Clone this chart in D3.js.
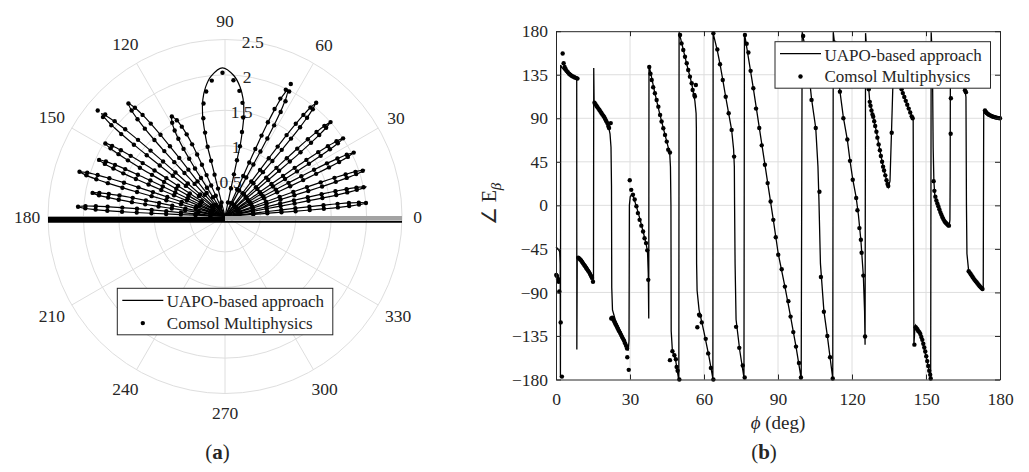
<!DOCTYPE html>
<html lang="en">
<head>
<meta charset="utf-8">
<title>UAPO vs Comsol</title>
<script src="https://d3js.org/d3.v7.min.js"></script>
<style>
  body { margin: 0; background: #fff; }
  svg text { font-family: "Liberation Serif", "Times New Roman", serif; fill: #262626; }
</style>
</head>
<body>
<svg id="chart" width="1029" height="472"></svg>
<script>
// ---------- (a) polar plot of the field magnitude ----------
var ringTicks = [0.5, 1, 1.5, 2, 2.5];
var ringLabels = ["0.5", "1", "1.5", "2", "2.5"];
var angleTicks = [0, 30, 60, 90, 120, 150, 180, 210, 240, 270, 300, 330];

// one entry per lobe: tip direction (deg), UAPO peak, Comsol peak, half width (deg)
var lobeAngle = [5.5, 11.9, 18.4, 26.4, 33.5, 41.8, 51.3, 63.6, 91, 118, 130.5, 140.2, 148.6, 155.8, 162.9, 169.9, 176.2];
var lobePeak = [2.02, 2.04, 2.08, 2.02, 2.0, 1.99, 2.04, 2.0, 2.1, 1.6, 2.1, 2.27, 1.99, 1.95, 2.15, 1.91, 2.1];
var comsolPeak = [2.0, 2.0, 2.05, 2.03, 2.0, 2.0, 2.06, 2.09, 2.03, 1.6, 2.1, 2.34, 1.98, 1.95, 2.15, 1.9, 2.08];
var lobeHalfWidth = [1.2, 1.3, 1.4, 1.5, 1.5, 1.6, 1.8, 2.2, 13, 4, 2.5, 1.8, 1.8, 1.6, 1.6, 1.5, 1.3];

// grazing directions drawn as solid bars
var baseAngle = [180, 0];
var baseReach = 2.5;

// ---------- (b) phase of E_beta versus phi ----------
var xTicks = [0, 30, 60, 90, 120, 150, 180];
var yTicks = [-180, -135, -90, -45, 0, 45, 90, 135, 180];

// [phi (deg), phase (deg)]
var uapoCurve = [
  [0, -43], [0.8, -45], [1.5, -48], [1.7, -60], [1.8, -178], [1.9, 145], [2.5, 142], [3.5, 139], [5, 136],
  [6.5, 133.5], [8.2, 131.3], [8.4, 130], [8.45, -149], [8.6, -54], [9, -54], [11, -59], [13, -66], [14.5, -72],
  [15.2, -77], [15.3, 142], [15.45, 107], [17, 100], [19, 92], [20.5, 86], [21.4, 80], [21.9, 74], [22.3, 60],
  [22.5, 20], [22.6, -85], [22.9, -108], [24, -118], [26, -130], [28, -141], [29.3, -150], [29.6, -140],
  [29.75, 0], [30.1, 9], [30.6, 11], [31.2, 10], [32.6, -1], [34, -14], [35.3, -27], [36.5, -39], [37.1, -48],
  [37.4, -70], [37.6, -117], [37.7, 145], [38.2, 139], [40, 117], [42, 95], [44, 75], [45.5, 60], [46.1, 54],
  [46.4, 40], [46.6, 0], [46.7, -130], [47.2, -151], [48.5, -160], [49.6, -178], [49.8, -180], [49.9, 179],
  [53, 146], [55, 126], [56.3, 108], [56.8, 95], [56.9, 80], [57, -60], [57.2, -88], [58, -108], [60, -131],
  [62, -156], [63.6, -179], [63.7, 178], [65.4, 160], [66.5, 146], [67.6, 130], [68.8, 112], [70, 95],
  [71.2, 78], [72, 58], [72.3, 40], [72.4, 0], [72.6, -60], [73, -118], [74.5, -150], [76.2, -178], [76.4, 178],
  [80, 121], [84.7, 42], [88.1, -15], [90.1, -50], [92.8, -84], [95.1, -115], [97.3, -146], [99.4, -179],
  [99.8, 179], [102, 150], [103.6, 110], [105.3, 80], [106.2, 40], [106.6, 5], [107.2, -60], [108.6, -109],
  [110, -135], [111.1, -157], [112.2, -179], [112.4, 179], [115.1, 118], [116.5, 91], [118.1, 68], [119.2, 46],
  [120.3, 27], [121.7, 8], [122.6, -10], [123.6, -36], [124.6, -73], [125.1, -110], [125.3, -144], [125.5, 178],
  [126.2, 150], [126.8, 120], [127.2, 107], [128.6, 91.5], [129.9, 76], [131.3, 57], [132.6, 40], [134, 26],
  [134.7, 19], [135.4, 25], [136.1, 83], [136.5, 118], [137.2, 168], [138.5, 140], [140.1, 121], [142.4, 104],
  [144.3, 92], [144.8, 89], [145.1, -144], [145.5, -127], [145.8, -124], [147.6, -132], [149, -145.5],
  [150.3, -159], [151.9, -179], [152.1, 179], [152.6, 150], [152.9, 60], [153.2, 25], [153.6, 9], [154.3, 4],
  [155.6, -5], [157, -13], [158, -17], [159, -20.5], [159.4, -21], [159.7, -15], [159.8, 30], [159.9, 165],
  [162, 148], [164, 132], [165.8, 119], [166.2, 112], [166.4, 0], [166.6, -50], [167.3, -68], [170, -77],
  [173.2, -86.5], [173.4, 98], [174, 95], [176, 92.5], [180, 90]
];

var comsolPoints = [
  [0.1, -72], [0.4, -73], [0.8, -76], [1.1, -79], [1.35, -89], [1.9, -121], [2.4, -177],
  [2.7, 157], [3.1, 147], [3.5, 143], [3.9, 141], [4.3, 139], [4.8, 137.5], [5.3, 136], [5.8, 135], [6.3, 134],
  [6.8, 133.3], [7.3, 132.6], [7.8, 132], [8.3, 131.5], [8.7, 131],
  [9, -54], [9.4, -55], [9.8, -56], [10.2, -57], [10.6, -58.5], [11, -60], [11.4, -61.5], [11.8, -63], [12.2, -64.5],
  [12.6, -66], [13, -67.5], [13.4, -69], [13.8, -71], [14.2, -73], [14.6, -75], [15, -79],
  [15.6, 106], [16, 104.5], [16.4, 103], [16.8, 101.5], [17.2, 100], [17.6, 98.5], [18, 97], [18.4, 95.5],
  [18.8, 94], [19.2, 92.5], [19.6, 91], [20, 89], [20.4, 87], [20.8, 85], [21.2, 82], [21.5, 80], [22.2, 85],
  [22.4, -117], [22.8, -116], [23.2, -118], [23.6, -120], [24, -122], [24.4, -124], [24.8, -126], [25.2, -128],
  [25.6, -130], [26, -132], [26.4, -134], [26.8, -136], [27.2, -138], [27.6, -140], [28, -142.5], [28.4, -145],
  [28.8, -148], [28.9, -157], [29.5, -170],
  [29.9, 26], [30.5, 16], [31.2, 11], [31.9, 6], [32.6, -1], [33.2, -8], [33.9, -15], [34.6, -21], [35.3, -27],
  [35.9, -34], [36.5, -39], [37, -46.5], [37.4, -77],
  [37.8, 143], [38.3, 136], [38.8, 129.6], [39.4, 122], [40.1, 115.8], [40.8, 108.9], [41.5, 102], [42.2, 93.5],
  [42.8, 86.6], [43.5, 79.7], [44.2, 72.8], [44.9, 65.9], [45.5, 57.4], [46.2, 54.6],
  [46.2, -160], [47.2, -150.7], [48, -155], [48.6, -159], [48.9, -167], [49.3, -171], [50, -180],
  [50.3, 176], [50.9, 167.4], [51.6, 160.5], [52.3, 153.6], [53, 146.8], [53.6, 139.9], [54.3, 133], [55, 126.2],
  [55.4, 119.3], [56.1, 114], [56.3, 112.5], [56.7, 124.4],
  [57.3, -126], [58, -113], [58.4, -114], [59.1, -121], [60.7, -138], [61.7, -153], [62.8, -168], [63.8, -180],
  [63.8, 177.8], [65.4, 161.2], [66.5, 145.8], [67.6, 129.6], [68.8, 112.3], [70, 95.2], [71.2, 78], [72.2, 50.4],
  [73, -125.6], [74.3, -147.3], [75.7, -165.5], [76.5, -178],
  [76.6, 176], [77.3, 167], [78, 158], [78.9, 139], [80, 121], [81.1, 100], [82.4, 80], [83.4, 62], [84.7, 42],
  [85.8, 23], [87, 4], [88.1, -15], [89.1, -33], [90.1, -51], [91.5, -66], [92.8, -84], [94.2, -99], [95.1, -115],
  [96.2, -131], [97.3, -146], [98.5, -163], [99.3, -178],
  [100.2, 175], [101.5, 152], [102.5, 132], [103.6, 109], [105.3, 80], [106.8, 14], [107.4, -74], [108.6, -110],
  [110, -135], [111.1, -157], [112.2, -179],
  [113, 168], [114, 145], [115.1, 117.5], [116.5, 90], [118.1, 68], [119.2, 46], [120.3, 26.5], [121.7, 7.6],
  [122.2, -5], [123, -23.5], [123.6, -35.6], [123.9, -49], [124.6, -72.6], [125.3, -135.6],
  [126.8, 120], [127.2, 107], [127.5, 103], [127.9, 98], [128.3, 94], [128.6, 91.5], [129, 87], [129.4, 82],
  [129.9, 76], [130.3, 70], [130.8, 63], [131.3, 57], [131.7, 51], [132.2, 45], [132.6, 40], [133, 36],
  [133.5, 31], [134, 26], [134.4, 22], [134.7, 20], [136.1, 75],
  [140.1, 120], [140.6, 116], [141.2, 112], [141.8, 108], [142.4, 104], [143, 100], [143.6, 96], [144.2, 92],
  [144.6, 90],
  [145.3, -144], [145.8, -126], [146.1, -127], [146.5, -128], [146.9, -130], [147.3, -131], [147.7, -133],
  [148.1, -136], [148.5, -139], [148.9, -143], [149.3, -147], [149.7, -151], [150.1, -156], [150.5, -161],
  [150.9, -166], [151.3, -171], [151.7, -175], [151.9, -179],
  [153.1, 25], [153.4, 15], [153.8, 9], [154.2, 5], [154.6, 2], [155, -1], [155.4, -4], [155.8, -7], [156.2, -9.5],
  [156.6, -12], [157, -14], [157.4, -16], [157.8, -17.5], [158.2, -18.5], [158.6, -19.5], [159, -20.5], [159.3, -21],
  [160.1, 110.7], [160, 74], [165.8, 119], [166.2, 117],
  [167.3, -68], [167.7, -69.5], [168.1, -71], [168.5, -72.5], [168.9, -74], [169.3, -75.5], [169.7, -77],
  [170.1, -78.3], [170.5, -79.5], [170.9, -80.8], [171.3, -82], [171.7, -83.3], [172.1, -84.5], [172.5, -85.5],
  [172.9, -86.5],
  [173.9, 98], [174.3, 96.5], [174.7, 95.3], [175.1, 94.4], [175.5, 93.7], [176, 93], [176.5, 92.4], [177, 91.9],
  [177.5, 91.4], [178, 91], [178.5, 90.7], [179, 90.4], [179.5, 90.2], [180, 90]
];

var legendNames = ["UAPO-based approach", "Comsol Multiphysics"];

// ---------- drawing ----------
var svg = d3.select("#chart");
var axisColor = "#262626";
var gridColor = "#dedede";

function legend(x, y) {
    var g = svg.append("g").attr("transform", "translate(" + x + "," + y + ")");
    g.append("rect").attr("width", 215.5).attr("height", 46.5)
        .attr("fill", "#fff").attr("stroke", axisColor).attr("stroke-width", 1);
    g.append("line").attr("x1", 5).attr("x2", 46).attr("y1", 12).attr("y2", 12)
        .attr("stroke", "#000").attr("stroke-width", 1.3);
    g.append("circle").attr("cx", 25.5).attr("cy", 34.8).attr("r", 2.2).attr("fill", "#000");
    g.selectAll("text").data(legendNames).enter().append("text")
        .attr("x", 49.5).attr("y", function (d, i) { return 19 + i * 21.5; })
        .style("font-size", "17px").text(function (d) { return d; });
}

// polar panel
var center = { x: 225, y: 216.5 };
var rScale = d3.scaleLinear().domain([0, 2.5]).range([0, 177]);
var rad = function (deg) { return deg * Math.PI / 180; };
function pxy(deg, r) {
    return [rScale(r) * Math.cos(rad(deg)), -rScale(r) * Math.sin(rad(deg))];
}
var polar = svg.append("g").attr("transform", "translate(" + center.x + "," + center.y + ")");

polar.selectAll("circle.ring").data(ringTicks).enter().append("circle")
    .attr("class", "ring").attr("r", function (d) { return rScale(d); })
    .attr("fill", "none").attr("stroke", gridColor).attr("stroke-width", 1);

polar.selectAll("line.spoke").data(angleTicks).enter().append("line")
    .attr("class", "spoke").attr("x1", 0).attr("y1", 0)
    .attr("x2", function (d) { return pxy(d, 2.5)[0]; })
    .attr("y2", function (d) { return pxy(d, 2.5)[1]; })
    .attr("stroke", gridColor).attr("stroke-width", 1);

// label distance grows a little with the label width along the horizontal
function labelRadius(d) {
    var w = String(d).length * 8.75;
    return 190 + 0.3 * w * Math.abs(Math.cos(rad(d))) + 6 * Math.abs(Math.sin(rad(d)));
}
polar.selectAll("text.angle").data(angleTicks).enter().append("text")
    .attr("class", "angle")
    .attr("x", function (d) { return labelRadius(d) * Math.cos(rad(d)); })
    .attr("y", function (d) { return -labelRadius(d) * Math.sin(rad(d)); })
    .attr("text-anchor", "middle").attr("dominant-baseline", "central")
    .style("font-size", "17.5px").text(function (d) { return d; });

polar.selectAll("text.ringlab").data(ringTicks).enter().append("text")
    .attr("class", "ringlab")
    .attr("x", function (d) { return pxy(81, d)[0]; })
    .attr("y", function (d) { return pxy(81, d)[1]; })
    .attr("text-anchor", "middle").attr("dominant-baseline", "central")
    .style("font-size", "17.5px").text(function (d, i) { return ringLabels[i]; });

// petal outline template: fraction of the peak radius and relative angular spread
var petalFrac = [0, 0.1, 0.2, 0.3, 0.4, 0.5, 0.6, 0.7, 0.8, 0.88, 0.95, 1];
var petalSpread = [1, 1, 1, 1, 1, 1, 0.95, 0.88, 0.75, 0.58, 0.35, 0];
function petal(i, peak) {
    var a = lobeAngle[i], w = lobeHalfWidth[i];
    var right = petalFrac.map(function (f, k) { return [a - w * petalSpread[k], f * peak]; });
    var left = petalFrac.slice(0, -1).map(function (f, k) { return [a + w * petalSpread[k], f * peak]; }).reverse();
    return right.concat(left);
}
var radialLine = d3.lineRadial()
    .angle(function (d) { return rad(90 - d[0]); })
    .radius(function (d) { return rScale(d[1]); })
    .curve(d3.curveCatmullRom.alpha(0.5));

polar.selectAll("path.lobe").data(lobeAngle).enter().append("path")
    .attr("class", "lobe")
    .attr("d", function (d, i) { return radialLine(petal(i, lobePeak[i])); })
    .attr("fill", "none").attr("stroke", "#000").attr("stroke-width", 1.2);

var polarDots = [];
lobeAngle.forEach(function (a, i) {
    petal(i, comsolPeak[i]).forEach(function (p) { if (p[1] > 0) polarDots.push(p); });
});
polar.selectAll("circle.cdot").data(polarDots).enter().append("circle")
    .attr("class", "cdot")
    .attr("cx", function (d) { return pxy(d[0], d[1])[0]; })
    .attr("cy", function (d) { return pxy(d[0], d[1])[1]; })
    .attr("r", 2.2).attr("fill", "#000");

// thick bars along the grazing directions
var baseLine = d3.lineRadial()
    .angle(function (d) { return rad(90 - d[0]); })
    .radius(function (d) { return rScale(d[1]); });
baseAngle.forEach(function (a, i) {
    var pts = [[a, 0], [a, baseReach]];
    if (i === 0) {
        polar.append("path").attr("d", baseLine(pts)).attr("transform", "translate(0,3.2)")
            .attr("stroke", "#000").attr("stroke-width", 6);
    } else {
        polar.append("path").attr("d", baseLine(pts)).attr("transform", "translate(0,1.6)")
            .attr("stroke", "#a3a3a3").attr("stroke-width", 4);
        polar.append("path").attr("d", baseLine(pts)).attr("transform", "translate(0,5.2)")
            .attr("stroke", "#000").attr("stroke-width", 2);
    }
});

legend(117.3, 288.3);

svg.append("text").attr("x", 217.5).attr("y", 459).attr("text-anchor", "middle")
    .style("font-size", "21px")
    .html('(<tspan font-weight="bold">a</tspan>)');

// phase panel
var xScale = d3.scaleLinear().domain([0, 180]).range([556, 1000]);
var yScale = d3.scaleLinear().domain([-180, 180]).range([379.5, 31.2]);

svg.append("g").selectAll("line").data(xTicks.slice(1, -1)).enter().append("line")
    .attr("x1", function (d) { return xScale(d); }).attr("x2", function (d) { return xScale(d); })
    .attr("y1", yScale(-180)).attr("y2", yScale(180))
    .attr("stroke", gridColor).attr("stroke-width", 1);
svg.append("g").selectAll("line").data(yTicks.slice(1, -1)).enter().append("line")
    .attr("y1", function (d) { return yScale(d); }).attr("y2", function (d) { return yScale(d); })
    .attr("x1", xScale(0)).attr("x2", xScale(180))
    .attr("stroke", gridColor).attr("stroke-width", 1);

var phaseLine = d3.line()
    .x(function (d) { return xScale(d[0]); })
    .y(function (d) { return yScale(d[1]); });
svg.append("path").datum(uapoCurve).attr("d", phaseLine)
    .attr("fill", "none").attr("stroke", "#000").attr("stroke-width", 1.3);

svg.append("g").selectAll("circle").data(comsolPoints).enter().append("circle")
    .attr("cx", function (d) { return xScale(d[0]); })
    .attr("cy", function (d) { return yScale(d[1]); })
    .attr("r", 2.2).attr("fill", "#000");

function styleAxis(g) {
    g.select(".domain").attr("stroke", axisColor);
    g.selectAll(".tick line").attr("stroke", axisColor);
    g.selectAll("text").style("font-size", "17.5px").attr("fill", axisColor)
        .style("font-family", '"Liberation Serif", "Times New Roman", serif');
}
svg.append("g").attr("transform", "translate(0," + yScale(-180) + ")")
    .call(d3.axisBottom(xScale).tickValues(xTicks).tickSize(-5).tickSizeOuter(0).tickPadding(13))
    .call(styleAxis);
svg.append("g").attr("transform", "translate(0," + yScale(180) + ")")
    .call(d3.axisTop(xScale).tickValues(xTicks).tickSize(-5).tickSizeOuter(0).tickFormat(""))
    .call(styleAxis);
svg.append("g").attr("transform", "translate(" + xScale(0) + ",0)")
    .call(d3.axisLeft(yScale).tickValues(yTicks).tickSize(-5).tickSizeOuter(0).tickPadding(8))
    .call(styleAxis);
svg.append("g").attr("transform", "translate(" + xScale(180) + ",0)")
    .call(d3.axisRight(yScale).tickValues(yTicks).tickSize(-5).tickSizeOuter(0).tickFormat(""))
    .call(styleAxis);

// axis titles
svg.append("text").attr("transform", "translate(496,204) rotate(-90)")
    .attr("text-anchor", "middle").style("font-size", "20px")
    .html('\u2220 E<tspan dy="5" font-size="15px" font-style="italic">\u03b2</tspan>');
svg.append("text").attr("x", xScale(90)).attr("y", 429).attr("text-anchor", "middle")
    .style("font-size", "19px")
    .html('<tspan font-style="italic">\u03d5</tspan> (deg)');

legend(775, 41.7);

svg.append("text").attr("x", 764).attr("y", 459).attr("text-anchor", "middle")
    .style("font-size", "21px")
    .html('(<tspan font-weight="bold">b</tspan>)');
</script>
</body>
</html>
